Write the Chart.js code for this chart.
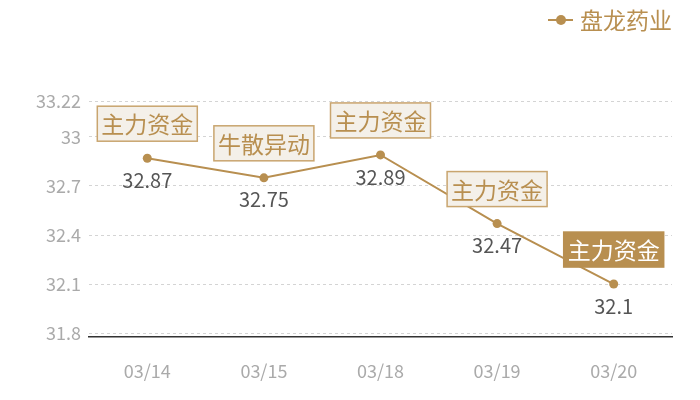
<!DOCTYPE html>
<html><head><meta charset="utf-8">
<script src="https://cdn.jsdelivr.net/npm/chart.js@4/dist/chart.umd.min.js"></script>
<style>html,body{margin:0;padding:0;background:#fff}#wrap{width:700px;height:400px}</style>
</head><body><div id="wrap"><canvas id="c" width="700" height="400"></canvas></div>
<script>
const categories = ['03/14','03/15','03/18','03/19','03/20'];
const seriesName = '盘龙药业';
const prices = [32.87, 32.75, 32.89, 32.47, 32.1];
const priceLabels = ['32.87','32.75','32.89','32.47','32.1'];
const tags = ['主力资金','牛散异动','主力资金','主力资金','主力资金'];
const tagHighlight = [false,false,false,false,true];
const yTicks = [31.8, 32.1, 32.4, 32.7, 33, 33.22];

const GOLD = '#b88f50';
const FONT = '"Noto Sans CJK SC", "Noto Sans", sans-serif';

const overlay = {
  id: 'overlay',
  afterDatasetsDraw(chart) {
    const ctx = chart.ctx;
    const meta = chart.getDatasetMeta(0);
    ctx.save();
    meta.data.forEach((pt, i) => {
      const x = pt.x, y = pt.y;
      // value label
      ctx.font = '20px ' + FONT;
      ctx.fillStyle = '#555';
      ctx.textAlign = 'center';
      ctx.textBaseline = 'middle';
      ctx.fillText(priceLabels[i], x, y + 22);
      // tag box
      ctx.font = '23px ' + FONT;
      const tw = ctx.measureText(tags[i]).width;
      const w = tw + 8, h = 35;
      const bx = x - w / 2, by = y - 17 - h;
      ctx.fillStyle = tagHighlight[i] ? GOLD : '#f4f0e9';
      ctx.fillRect(bx, by, w, h);
      ctx.strokeStyle = tagHighlight[i] ? GOLD : '#c9a56f';
      ctx.lineWidth = 1.5;
      ctx.strokeRect(bx, by, w, h);
      ctx.fillStyle = tagHighlight[i] ? '#fff' : GOLD;
      ctx.fillText(tags[i], x, by + h / 2 + 1);
    });
    // legend
    const ly = 20;
    ctx.strokeStyle = GOLD; ctx.lineWidth = 2;
    ctx.beginPath(); ctx.moveTo(548, ly); ctx.lineTo(573, ly); ctx.stroke();
    ctx.fillStyle = GOLD;
    ctx.beginPath(); ctx.arc(561, ly, 5, 0, Math.PI * 2); ctx.fill();
    ctx.font = '23px ' + FONT;
    ctx.textAlign = 'left'; ctx.textBaseline = 'middle';
    ctx.fillText(seriesName, 580, ly);
    ctx.restore();
  }
};

new Chart(document.getElementById('c'), {
  type: 'line',
  data: {
    labels: categories,
    datasets: [{
      label: seriesName,
      data: prices,
      borderColor: GOLD,
      backgroundColor: GOLD,
      borderWidth: 2,
      pointRadius: 4.5,
      pointBackgroundColor: GOLD,
      pointBorderWidth: 0,
      tension: 0
    }]
  },
  options: {
    responsive: false,
    animation: false,
    devicePixelRatio: 1,
    layout: { padding: { top: 101, right: 28, left: 0, bottom: 0 } },
    plugins: { legend: { display: false }, tooltip: { enabled: false } },
    scales: {
      x: {
        offset: true,
        afterFit(axis) { axis.height = 63; },
        grid: { display: false, drawTicks: false, offset: true },
        border: { display: true, color: '#333', width: 1.5 },
        ticks: { color: '#aaa', font: { family: FONT, size: 18 }, padding: 23 }
      },
      y: {
        min: 31.776,
        max: 33.22,
        afterBuildTicks(axis) { axis.ticks = yTicks.map(v => ({ value: v })); },
        afterFit(axis) { axis.width = 89; },
        grid: { color: '#d4d4d4', drawTicks: false, lineWidth: 1 },
        border: { display: false, dash: [3, 3] },
        ticks: {
          color: '#aaa', font: { family: FONT, size: 18 }, padding: 8,
          callback: (v) => String(v)
        }
      }
    }
  },
  plugins: [overlay]
});
</script>
</body></html>
